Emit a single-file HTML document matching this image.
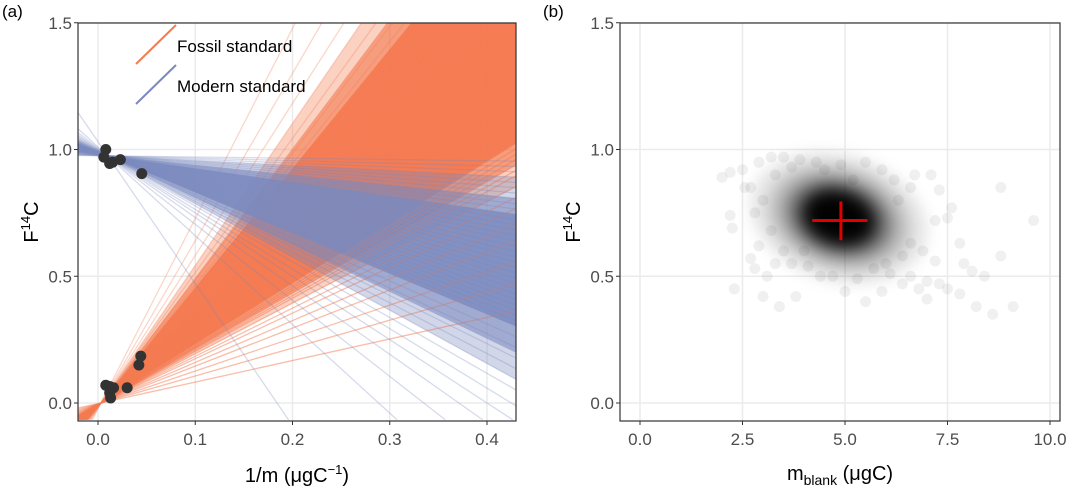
<!DOCTYPE html>
<html><head><meta charset="utf-8"><style>
html,body{margin:0;padding:0;background:#fff;width:1068px;height:492px;overflow:hidden;}
svg{display:block;font-family:"Liberation Sans",Arial,sans-serif;}
.tick{fill:#4d4d4d;font-size:17px;}
.title{fill:#000;font-size:20px;}
</style></head><body>
<svg id="fig" width="1068" height="492" viewBox="0 0 1068 492">
<defs>
<clipPath id="clipA"><rect x="78" y="23" width="438" height="398"/></clipPath>
<clipPath id="clipB"><rect x="620" y="23" width="440" height="398"/></clipPath>
<filter id="blur" x="-50%" y="-50%" width="200%" height="200%"><feGaussianBlur stdDeviation="7"/></filter>
</defs>
<g id="panelA"></g>
<g id="panelB"></g>
</svg>
<script>
// ---------- Panel A data ----------
const fossilPivot = [0.003, 0.0];
const fossilSlopes = [0.85,1.1,1.3,1.5,1.65,1.8,1.9,2.0,2.1,2.15,2.2,2.25,2.3,2.35,2.4,2.45,2.5,2.55,2.6,2.65,2.7,2.75,2.8,2.85,2.9,2.95,3.0,3.05,3.1,3.15,3.2,3.25,3.3,3.35,3.4,3.45,3.5,3.55,3.6,3.65,3.7,3.8,3.9,4.0,4.1,4.2,4.3,4.45,4.6,4.8,5.0,5.3,5.6,6.0,6.6,7.5];
const fossilBandLo = [2.0, 2.2, 2.4];
const fossilBandHi = [5.6, 5.1, 4.7];
const fossilBandOp = [0.35, 0.6, 0.92];
const modernPivot = [0.01, 0.975];
const modernSlopes = [-0.05,-0.1,-0.15,-0.2,-0.25,-0.3,-0.35,-0.4,-0.45,-0.5,-0.55,-0.6,-0.65,-0.7,-0.75,-0.8,-0.85,-0.9,-0.95,-1.0,-1.05,-1.1,-1.15,-1.2,-1.25,-1.3,-1.35,-1.4,-1.45,-1.5,-1.55,-1.6,-1.7,-1.8,-1.9,-2.0,-2.1,-2.2,-2.35,-2.5,-2.7,-3.0,-3.5,-5.6];
const modernBandLo = [-0.2, -0.4, -0.55];
const modernBandHi = [-2.1, -1.85, -1.6];
const modernBandOp = [0.35, 0.55, 0.8];
const pointsX = [0.008,0.006,0.015,0.012,0.023,0.045,0.008,0.012,0.016,0.012,0.013,0.030,0.042,0.044];
const pointsY = [1.0,0.97,0.95,0.945,0.96,0.905,0.07,0.065,0.06,0.04,0.02,0.06,0.15,0.185];
const xTicksA = ["0.0","0.1","0.2","0.3","0.4"];
const xTickValsA = [0,0.1,0.2,0.3,0.4];
const yTicks = ["0.0","0.5","1.0","1.5"];
const yTickVals = [0,0.5,1.0,1.5];
// ---------- Panel B data ----------
const blankX = [2.0,2.2,2.5,2.55,2.2,2.25,2.3,2.7,2.8,3.0,3.4,3.8,3.1,3.3,2.9,2.8,2.7,2.9,3.2,3.5,3.9,4.3,4.9,5.5,5.9,6.2,6.7,7.1,7.3,7.6,7.5,7.2,8.8,9.6,8.8,7.8,7.9,8.1,8.4,8.6,9.1,8.2,7.8,7.5,7.0,6.8,6.4,5.9,5.5,5.0,4.4,4.1,4.7,5.3,6.1,6.6,7.0,7.3,7.2,6.9,6.6,6.3,6.6,5.2,4.5,3.7,3.3,3.0,3.2,3.5,3.7,4.0,6.0,6.4,5.7];
const blankY = [0.89,0.91,0.92,0.85,0.74,0.69,0.45,0.57,0.53,0.42,0.38,0.42,0.5,0.55,0.62,0.75,0.85,0.95,0.97,0.97,0.96,0.95,0.94,0.95,0.92,0.88,0.9,0.9,0.84,0.77,0.73,0.72,0.85,0.72,0.58,0.63,0.55,0.52,0.5,0.35,0.38,0.38,0.43,0.45,0.41,0.45,0.47,0.44,0.4,0.44,0.5,0.54,0.5,0.49,0.51,0.5,0.48,0.47,0.56,0.6,0.63,0.8,0.85,0.88,0.92,0.93,0.9,0.8,0.68,0.6,0.55,0.6,0.55,0.58,0.53];
const cloudCenter = [4.85, 0.73];
const cloudRx = [2.2, 1.75, 1.35, 1.0, 0.78];
const cloudRy = [0.25, 0.2, 0.155, 0.12, 0.09];
const cloudOpacity = [0.1, 0.18, 0.35, 0.7, 0.95];
const meanX = 4.9, meanY = 0.72, errX = [4.2, 5.55], errY = [0.642, 0.795];
const xTicksB = ["0.0","2.5","5.0","7.5","10.0"];
const xTickValsB = [0,2.5,5,7.5,10];

const NS="http://www.w3.org/2000/svg";
function mk(parent,tag,attrs){const e=document.createElementNS(NS,tag);for(const k in attrs)e.setAttribute(k,attrs[k]);parent.appendChild(e);return e;}
const yS = v => 403 - v*253.5;
const xA = v => 98 + v*972.5;
const xB = v => 640 + v*41;
const XL=-0.021, XR=0.431, YLO=-0.066, YHI=1.52;

function frame(g, x0, x1, xs, tickVals){
  const grid = mk(g,'g',{});
  
  
  tickVals.forEach(v=>mk(grid,'line',{x1:xs(v),x2:xs(v),y1:23,y2:421,stroke:'#ebebeb','stroke-width':1.5}));
  yTickVals.forEach(v=>mk(grid,'line',{x1:x0,x2:x1,y1:yS(v),y2:yS(v),stroke:'#ebebeb','stroke-width':1.5}));
}
function axes(g, x0, x1, xs, tickVals, tickLabels){
  const b = mk(g,'rect',{x:x0,y:23,width:x1-x0,height:398,fill:'none',stroke:'#333','stroke-width':1.2});
  
  
  tickVals.forEach((v,i)=>{
    mk(g,'line',{x1:xs(v),x2:xs(v),y1:421,y2:425,stroke:'#333','stroke-width':1});
    const t=mk(g,'text',{x:xs(v),y:445,'text-anchor':'middle',class:'tick'});
    t.textContent=tickLabels[i];
    
    
  });
  yTickVals.forEach((v,i)=>{
    mk(g,'line',{x1:x0-4,x2:x0,y1:yS(v),y2:yS(v),stroke:'#333','stroke-width':1});
    const t=mk(g,'text',{x:x0-6,y:yS(v)+6,'text-anchor':'end',class:'tick'});
    t.textContent=yTicks[i];
    
    
  });
}
// clip polygon (data coords) to y range
function clipY(pts, lim, keepBelow){
  const out=[];
  for(let i=0;i<pts.length;i++){
    const a=pts[i], b=pts[(i+1)%pts.length];
    const ina = keepBelow ? a[1]<=lim : a[1]>=lim;
    const inb = keepBelow ? b[1]<=lim : b[1]>=lim;
    if(ina) out.push(a);
    if(ina!==inb){const t=(lim-a[1])/(b[1]-a[1]); out.push([a[0]+t*(b[0]-a[0]),lim]);}
  }
  return out;
}
function lineSeg(p,s){
  let x1=XL,x2=XR;
  const yAt=x=>p[1]+s*(x-p[0]);
  const xAt=y=>p[0]+(y-p[1])/s;
  if(yAt(x1)>YHI) x1=xAt(YHI); if(yAt(x1)<YLO) x1=xAt(YLO);
  if(yAt(x2)>YHI) x2=xAt(YHI); if(yAt(x2)<YLO) x2=xAt(YLO);
  return [x1,yAt(x1),x2,yAt(x2)];
}

// ---------- Panel A ----------
const A=document.getElementById('panelA');
frame(A,78,516,xA,xTickValsA);
const linesG=mk(A,'g',{'clip-path':'url(#clipA)'});


function band(p,lo,hi,color,op){
  let pts=[[XL,p[1]+lo*(XL-p[0])],[XR,p[1]+lo*(XR-p[0])],[XR,p[1]+hi*(XR-p[0])],[XL,p[1]+hi*(XL-p[0])]];
  pts=clipY(pts,YHI,true); pts=clipY(pts,YLO,false);
  return mk(linesG,'polygon',{points:pts.map(q=>xA(q[0]).toFixed(1)+','+yS(q[1]).toFixed(1)).join(' '),fill:color,opacity:op});
}
function lineSet(p,slopes,color,op,name){
  slopes.forEach(s=>{
    const g=lineSeg(p,s);
    const l=mk(linesG,'line',{x1:xA(g[0]),y1:yS(g[1]),x2:xA(g[2]),y2:yS(g[3]),stroke:color,'stroke-width':1.3,opacity:op});
    
    
  });
}
fossilBandLo.forEach((lo,i)=>{
  const e=band(fossilPivot,lo,fossilBandHi[i],'#f47a50',fossilBandOp[i]);
  
  
});
lineSet(fossilPivot,fossilSlopes,'#f47a50',0.3,'fossil-line');
modernBandLo.forEach((lo,i)=>{
  const e=band(modernPivot,lo,modernBandHi[i],'#7a89be',modernBandOp[i]);
  
  
});
lineSet(modernPivot,modernSlopes,'#7a89be',0.3,'modern-line');
lineSet(fossilPivot,fossilSlopes.slice(0,14),'#f47a50',0.25,'fossil-line');
pointsX.forEach((x,i)=>{
  const c=mk(linesG,'circle',{cx:xA(x),cy:yS(pointsY[i]),r:5.5,fill:'#333'});
  
  
});
axes(A,78,516,xA,xTickValsA,xTicksA);
const lg=mk(A,'g',{});


mk(lg,'line',{x1:136,y1:64,x2:176,y2:25,stroke:'#f47a50','stroke-width':2});
mk(lg,'line',{x1:136,y1:104,x2:176,y2:65,stroke:'#7a89be','stroke-width':2});
let t=mk(lg,'text',{x:177,y:52,'font-size':17,fill:'#000'});t.textContent='Fossil standard';


t=mk(lg,'text',{x:177,y:92,'font-size':17,fill:'#000'});t.textContent='Modern standard';


t=mk(A,'text',{x:297,y:482,'text-anchor':'middle',class:'title'});
t.innerHTML='1/m (μgC<tspan dy="-8" font-size="13">−1</tspan><tspan dy="8">)</tspan>';


t=mk(A,'text',{transform:'translate(38,222) rotate(-90)','text-anchor':'middle',class:'title'});
t.innerHTML='F<tspan dy="-8" font-size="13">14</tspan><tspan dy="8">C</tspan>';


t=mk(A,'text',{x:2,y:17,'font-size':17,fill:'#000'});t.textContent='(a)';



// ---------- Panel B ----------
const B=document.getElementById('panelB');
frame(B,620,1060,xB,xTickValsB);
const pg=mk(B,'g',{'clip-path':'url(#clipB)'});


blankX.forEach((x,i)=>{
  const c=mk(pg,'circle',{cx:xB(x),cy:yS(blankY[i]),r:5.5,fill:'#000',opacity:0.06});
  
  
});
const cg=mk(pg,'g',{filter:'url(#blur)'});


cloudRx.forEach((rx,i)=>{
  const cx=xB(cloudCenter[0]),cy=yS(cloudCenter[1]);
  mk(cg,'ellipse',{cx:cx,cy:cy,rx:rx*41,ry:cloudRy[i]*253.5,fill:'#000',opacity:cloudOpacity[i],transform:`rotate(17 ${cx} ${cy})`});
});
const cross=mk(pg,'g',{});


mk(cross,'line',{x1:xB(errX[0]),x2:xB(errX[1]),y1:yS(meanY),y2:yS(meanY),stroke:'#e00000','stroke-width':3});
mk(cross,'line',{x1:xB(meanX),x2:xB(meanX),y1:yS(errY[0]),y2:yS(errY[1]),stroke:'#e00000','stroke-width':3});
axes(B,620,1060,xB,xTickValsB,xTicksB);
t=mk(B,'text',{x:840,y:480,'text-anchor':'middle',class:'title'});
t.innerHTML='m<tspan dy="5" font-size="14">blank</tspan><tspan dy="-5"> (μgC)</tspan>';


t=mk(B,'text',{transform:'translate(580,222) rotate(-90)','text-anchor':'middle',class:'title'});
t.innerHTML='F<tspan dy="-8" font-size="13">14</tspan><tspan dy="8">C</tspan>';


t=mk(B,'text',{x:543,y:17,'font-size':17,fill:'#000'});t.textContent='(b)';


</script>
</body></html>
